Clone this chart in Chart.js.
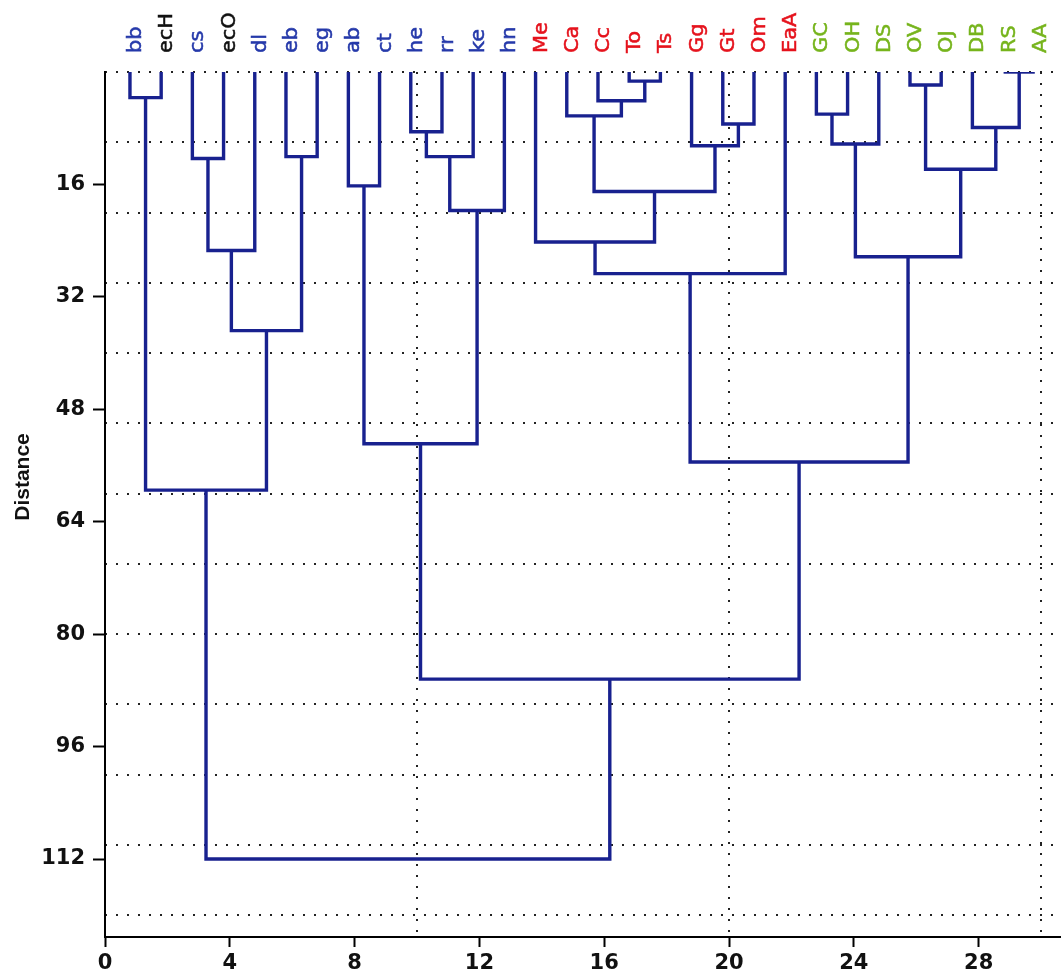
<!DOCTYPE html>
<html>
<head>
<meta charset="utf-8">
<script src="https://cdn.jsdelivr.net/npm/chart.js@4.4.0/dist/chart.umd.min.js"></script>
<style>
  html, body { margin: 0; padding: 0; background: #fff; }
</style>
</head>
<body>
<canvas id="chart" width="1061" height="980"></canvas>
<script>
// leaves in dendrogram order, left to right
const leaves = ['bb', 'ecH', 'cs', 'ecO', 'dl', 'eb', 'eg', 'ab', 'ct', 'he', 'rr', 'ke', 'hn',
  'Me', 'Ca', 'Cc', 'To', 'Ts', 'Gg', 'Gt', 'Om', 'EaA',
  'GC', 'OH', 'DS', 'OV', 'OJ', 'DB', 'RS', 'AA'];
// label colour group of each leaf
const leafGroups = ['b', 'k', 'b', 'k', 'b', 'b', 'b', 'b', 'b', 'b', 'b', 'b', 'b',
  'r', 'r', 'r', 'r', 'r', 'r', 'r', 'r', 'r',
  'g', 'g', 'g', 'g', 'g', 'g', 'g', 'g'];
// first leaf sits at this x, the rest one unit apart
const leafStart = 0.8;

// linkage: ids 0..29 are leaves, merge k creates node 30 + k
const linkA = [28, 16, 25, 0, 15, 22, 14, 19, 27, 9, 35, 18, 5, 39, 2, 32, 7, 36, 43, 13, 44, 40, 49, 50, 46, 52, 33, 54, 56];
const linkB = [29, 17, 26, 1, 31, 23, 34, 20, 30, 10, 24, 37, 6, 11, 3, 38, 8, 41, 12, 47, 4, 45, 21, 42, 48, 51, 53, 55, 57];
const linkHeight = [0, 1.3, 1.85, 3.65, 4.1, 6.0, 6.25, 7.4, 7.9, 8.5, 10.25, 10.5, 12.05, 12.05, 12.3,
  13.85, 16.2, 17.0, 19.7, 24.2, 25.4, 26.3, 28.7, 36.8, 52.9, 55.5, 59.5, 86.4, 112];

// axis ranges and ticks
const xMax = 30.64;
const yMax = 123.1;
const xTicks = [0, 4, 8, 12, 16, 20, 24, 28];
const yTicks = [16, 32, 48, 64, 80, 96, 112];
const xGrid = [0, 10, 20, 30];
const yGrid = [0, 10, 20, 30, 40, 50, 60, 70, 80, 90, 100, 110, 120];

const groupColors = { b: '#2539aa', k: '#111111', r: '#e5121c', g: '#76b41c' };
const linkColor = '#18218f';

// node positions: leaves at height 0, merges centred over their two children
const nodeX = leaves.map((_, i) => leafStart + i);
const nodeY = leaves.map(() => 0);
linkA.forEach((a, k) => {
  nodeX.push((nodeX[a] + nodeX[linkB[k]]) / 2);
  nodeY.push(linkHeight[k]);
});

// one U-shaped line per merge
const datasets = linkA.map((a, k) => {
  const b = linkB[k];
  const h = linkHeight[k];
  return {
    data: [
      { x: nodeX[a], y: nodeY[a] },
      { x: nodeX[a], y: h },
      { x: nodeX[b], y: h },
      { x: nodeX[b], y: nodeY[b] }
    ],
    showLine: true,
    borderColor: linkColor,
    borderWidth: 3.4,
    borderJoinStyle: 'miter',
    pointRadius: 0,
    fill: false,
    tension: 0
  };
});

const tickFont = { family: 'DejaVu Sans', weight: 'bold', size: 21 };
const setTicks = list => scale => { scale.ticks = list.map(v => ({ value: v })); };

// rotated leaf names above the plot, plus the y axis title
const leafLabels = {
  id: 'leafLabels',
  afterDraw(chart) {
    const { ctx, scales: { x } } = chart;
    ctx.save();
    ctx.font = '19px "DejaVu Sans"';
    ctx.textAlign = 'left';
    ctx.textBaseline = 'alphabetic';
    leaves.forEach((name, i) => {
      const px = x.getPixelForValue(leafStart + i);
      ctx.save();
      ctx.translate(px + 11, 53);
      ctx.rotate(-Math.PI / 2);
      ctx.scale(1.1, 1);
      ctx.fillStyle = groupColors[leafGroups[i]];
      ctx.strokeStyle = groupColors[leafGroups[i]];
      ctx.lineWidth = 0.5;
      ctx.fillText(name, 0, 0);
      ctx.strokeText(name, 0, 0);
      ctx.restore();
    });

    ctx.save();
    ctx.translate(23, 477);
    ctx.rotate(-Math.PI / 2);
    ctx.font = 'bold 21px "Liberation Sans", Arial';
    ctx.textAlign = 'center';
    ctx.textBaseline = 'middle';
    ctx.fillStyle = '#111';
    ctx.fillText('Distance', 0, 0);
    ctx.restore();
    ctx.restore();
  }
};

new Chart(document.getElementById('chart'), {
  type: 'scatter',
  data: { datasets },
  options: {
    responsive: false,
    animation: false,
    devicePixelRatio: 1,
    layout: { padding: { top: 72, right: 0, bottom: 0, left: 0 } },
    plugins: { legend: { display: false }, tooltip: { enabled: false } },
    scales: {
      x: {
        type: 'linear', position: 'bottom', min: 0, max: xMax,
        afterBuildTicks: setTicks(xTicks),
        afterFit: s => { s.height = 43; },
        grid: { drawOnChartArea: false, drawTicks: true, tickLength: 10, tickColor: '#000', tickWidth: 2 },
        border: { display: true, color: '#000', width: 2 },
        ticks: { color: '#111', font: tickFont, padding: 4, maxRotation: 0, autoSkip: false }
      },
      xg: {
        type: 'linear', position: 'top', min: 0, max: xMax,
        afterBuildTicks: setTicks(xGrid),
        afterFit: s => { s.height = 0; },
        ticks: { display: false },
        grid: { color: '#222', lineWidth: 2, drawTicks: false },
        border: { display: false, dash: [2, 9] }
      },
      y: {
        type: 'linear', position: 'left', reverse: true, min: 0, max: yMax,
        afterBuildTicks: setTicks(yTicks),
        afterFit: s => { s.width = 105; },
        grid: { drawOnChartArea: false, drawTicks: true, tickLength: 12, tickColor: '#000', tickWidth: 2 },
        border: { display: true, color: '#000', width: 2 },
        ticks: { color: '#111', font: tickFont, padding: 8, autoSkip: false }
      },
      yg: {
        type: 'linear', position: 'right', reverse: true, min: 0, max: yMax,
        afterBuildTicks: setTicks(yGrid),
        afterFit: s => { s.width = 0; },
        ticks: { display: false },
        grid: { color: '#222', lineWidth: 2, drawTicks: false },
        border: { display: false, dash: [2, 9] }
      }
    }
  },
  plugins: [leafLabels]
});
</script>
</body>
</html>
